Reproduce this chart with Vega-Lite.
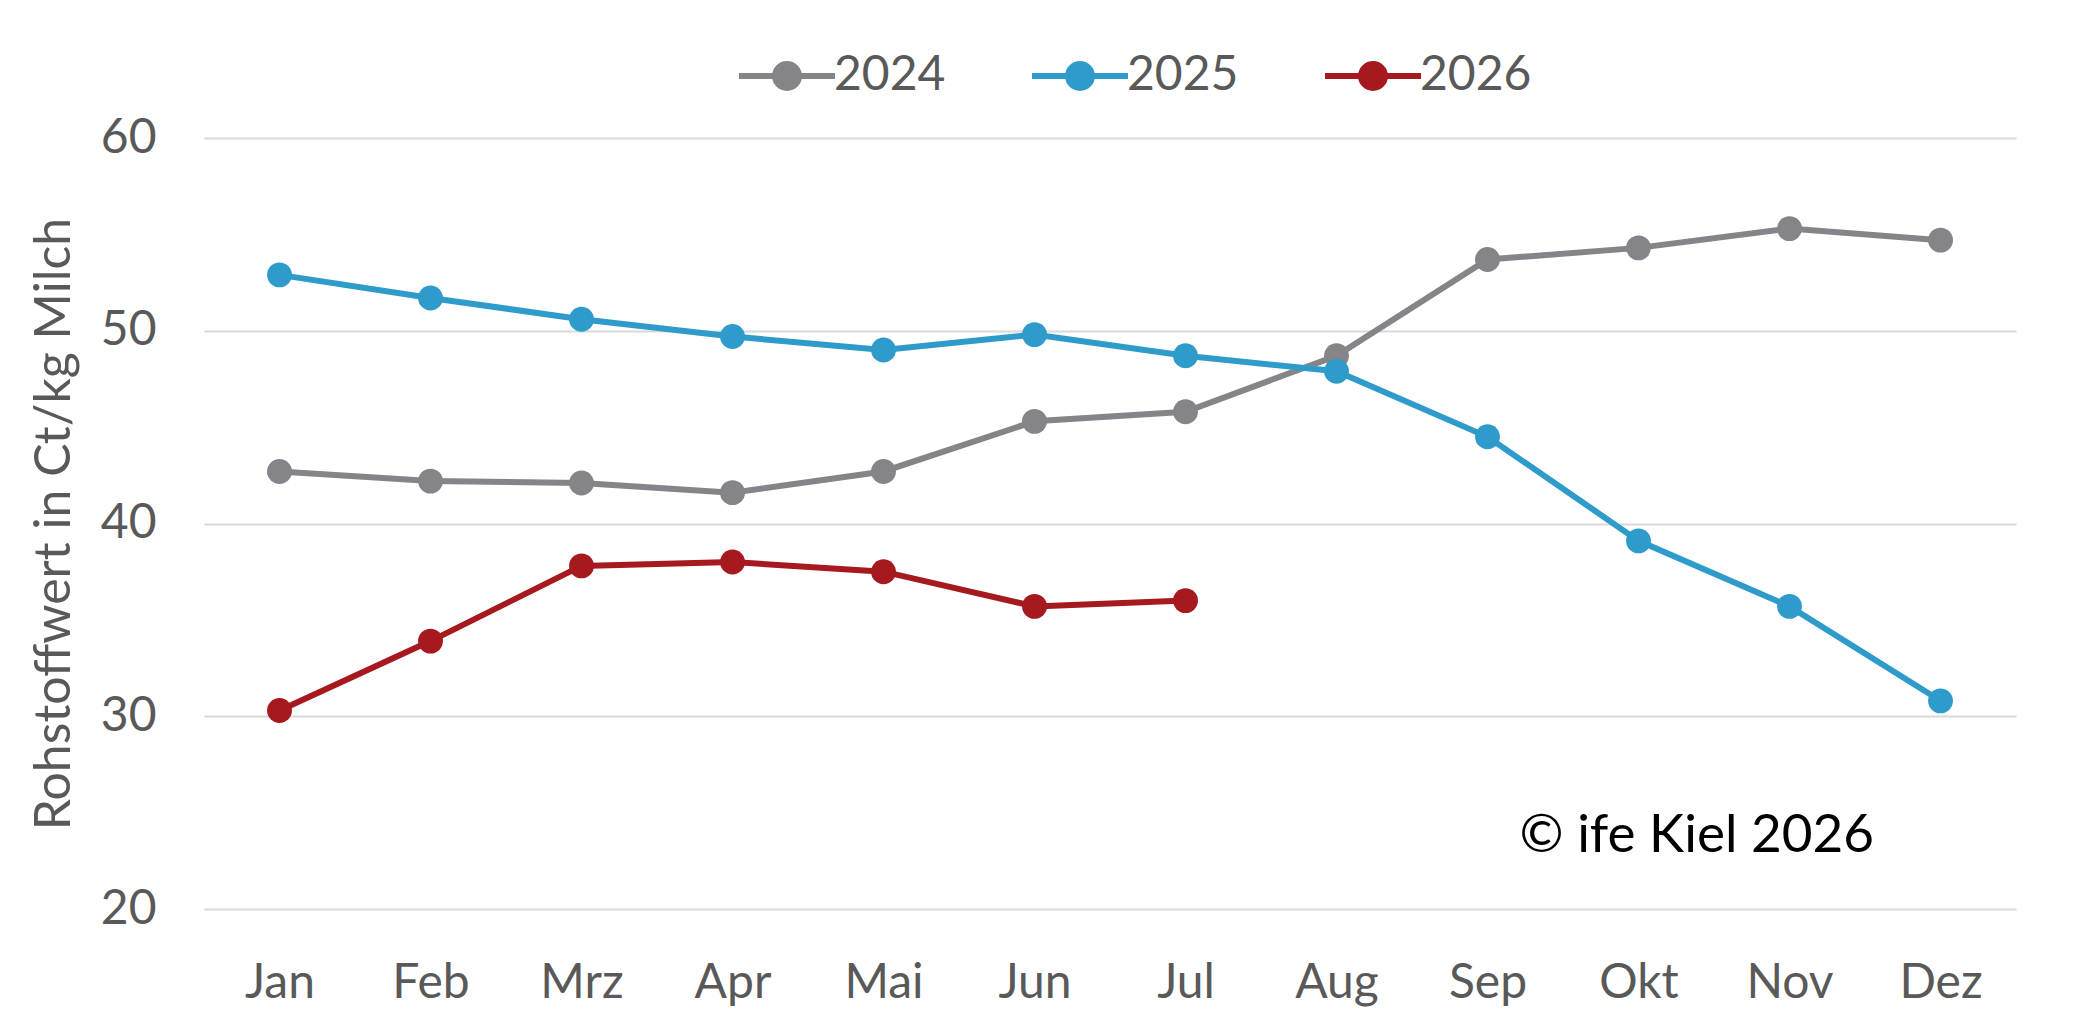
{
  "$schema": "https://vega.github.io/schema/vega-lite/v6.json",
  "width": 1812,
  "height": 771,
  "autosize": "none",
  "padding": {"left": 204, "top": 138, "right": 65, "bottom": 111},
  "background": "white",
  "config": {
    "font": "Lato",
    "view": {"stroke": null},
    "axis": {
      "labelFont": "Lato",
      "titleFont": "Lato",
      "labelColor": "#595959",
      "titleColor": "#595959",
      "labelFontSize": 48,
      "titleFontSize": 50,
      "titleFontWeight": "normal",
      "gridColor": "#D9D9D9",
      "gridWidth": 2,
      "ticks": false,
      "domain": false
    },
    "legend": {
      "labelFont": "Lato",
      "labelFontSize": 48,
      "labelColor": "#595959",
      "symbolType": "M-4,0H4M1,0A1,1,0,1,1,-1,0A1,1,0,1,1,1,0Z",
      "symbolSize": 576,
      "symbolStrokeWidth": 6,
      "labelOffset": 23,
      "columnPadding": 74
    }
  },
  "data": {
    "values": [
      {"Monat": "Jan", "Jahr": "2024", "Wert": 42.7},
      {"Monat": "Feb", "Jahr": "2024", "Wert": 42.2},
      {"Monat": "Mrz", "Jahr": "2024", "Wert": 42.1},
      {"Monat": "Apr", "Jahr": "2024", "Wert": 41.6},
      {"Monat": "Mai", "Jahr": "2024", "Wert": 42.7},
      {"Monat": "Jun", "Jahr": "2024", "Wert": 45.3},
      {"Monat": "Jul", "Jahr": "2024", "Wert": 45.8},
      {"Monat": "Aug", "Jahr": "2024", "Wert": 48.7},
      {"Monat": "Sep", "Jahr": "2024", "Wert": 53.7},
      {"Monat": "Okt", "Jahr": "2024", "Wert": 54.3},
      {"Monat": "Nov", "Jahr": "2024", "Wert": 55.3},
      {"Monat": "Dez", "Jahr": "2024", "Wert": 54.7},
      {"Monat": "Jan", "Jahr": "2025", "Wert": 52.9},
      {"Monat": "Feb", "Jahr": "2025", "Wert": 51.7},
      {"Monat": "Mrz", "Jahr": "2025", "Wert": 50.6},
      {"Monat": "Apr", "Jahr": "2025", "Wert": 49.7},
      {"Monat": "Mai", "Jahr": "2025", "Wert": 49.0},
      {"Monat": "Jun", "Jahr": "2025", "Wert": 49.8},
      {"Monat": "Jul", "Jahr": "2025", "Wert": 48.7},
      {"Monat": "Aug", "Jahr": "2025", "Wert": 47.9},
      {"Monat": "Sep", "Jahr": "2025", "Wert": 44.5},
      {"Monat": "Okt", "Jahr": "2025", "Wert": 39.1},
      {"Monat": "Nov", "Jahr": "2025", "Wert": 35.7},
      {"Monat": "Dez", "Jahr": "2025", "Wert": 30.8},
      {"Monat": "Jan", "Jahr": "2026", "Wert": 30.3},
      {"Monat": "Feb", "Jahr": "2026", "Wert": 33.9},
      {"Monat": "Mrz", "Jahr": "2026", "Wert": 37.8},
      {"Monat": "Apr", "Jahr": "2026", "Wert": 38.0},
      {"Monat": "Mai", "Jahr": "2026", "Wert": 37.5},
      {"Monat": "Jun", "Jahr": "2026", "Wert": 35.7},
      {"Monat": "Jul", "Jahr": "2026", "Wert": 36.0}
    ]
  },
  "layer": [
    {
      "mark": {
        "type": "line",
        "strokeWidth": 6,
        "point": {"filled": true, "size": 620, "opacity": 1}
      },
      "encoding": {
        "x": {
          "field": "Monat",
          "type": "ordinal",
          "sort": ["Jan", "Feb", "Mrz", "Apr", "Mai", "Jun", "Jul", "Aug", "Sep", "Okt", "Nov", "Dez"],
          "scale": {"type": "point", "padding": 0.5},
          "axis": {"title": null, "labelAngle": 0, "labelPadding": 50, "grid": false}
        },
        "y": {
          "field": "Wert",
          "type": "quantitative",
          "scale": {"domain": [20, 60], "nice": false},
          "axis": {
            "title": "Rohstoffwert in Ct/kg Milch",
            "values": [20, 30, 40, 50, 60],
            "labelPadding": 48,
            "titlePadding": 21
          }
        },
        "color": {
          "field": "Jahr",
          "type": "nominal",
          "scale": {"domain": ["2024", "2025", "2026"], "range": ["#848489", "#2E9BCB", "#A6191E"]},
          "legend": {
            "title": null,
            "orient": "none",
            "direction": "horizontal",
            "legendX": 559,
            "legendY": -86
          }
        }
      }
    },
    {
      "data": {"values": [{"Monat": "Sep", "Wert": 23.8, "Text": "© ife Kiel 2026"}]},
      "mark": {"type": "text", "align": "left", "baseline": "middle", "font": "Lato", "fontSize": 53, "color": "black", "dx": 32},
      "encoding": {
        "x": {"field": "Monat", "type": "ordinal", "sort": ["Jan", "Feb", "Mrz", "Apr", "Mai", "Jun", "Jul", "Aug", "Sep", "Okt", "Nov", "Dez"]},
        "y": {"field": "Wert", "type": "quantitative"},
        "text": {"field": "Text"}
      }
    }
  ]
}
